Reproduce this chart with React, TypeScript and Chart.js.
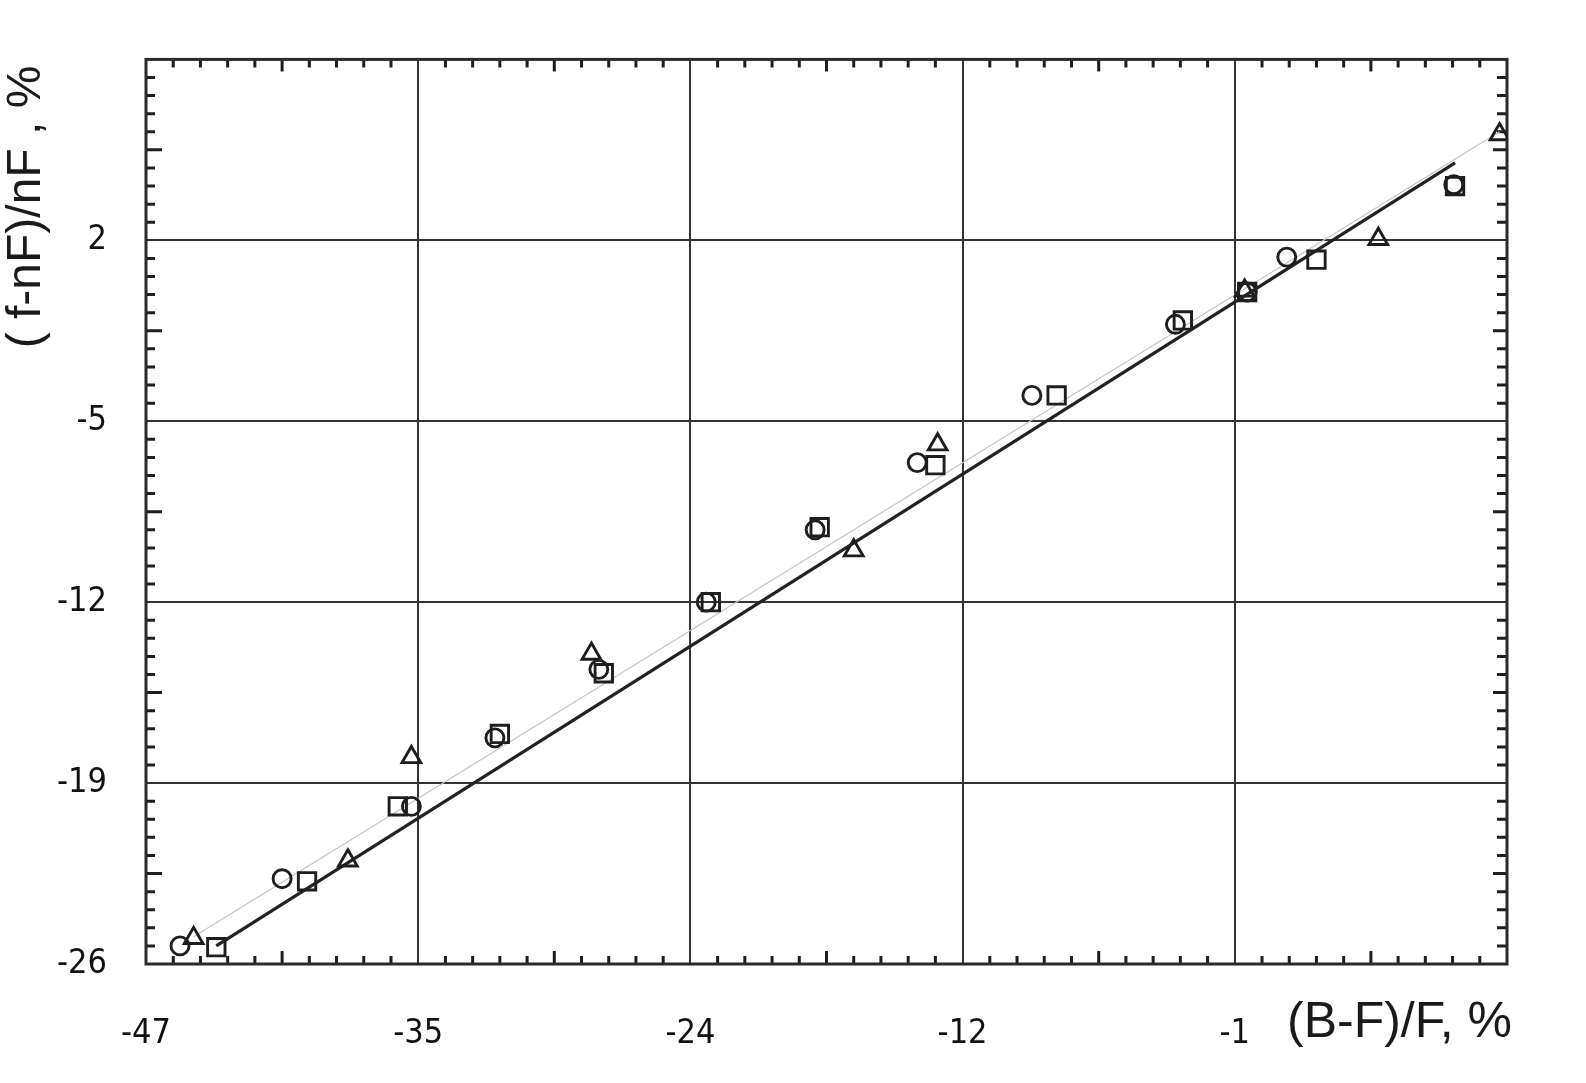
import React, { useEffect, useRef } from 'react';
import { Chart, registerables } from 'chart.js';

Chart.register(...registerables);

// ---- axis definitions ----
const xTickValues = [-47, -35, -24, -12, -1];
const yTickValues = [-26, -19, -12, -5, 2];
const yMin = -26;
const yMax = 9;
const yMinorStep = 0.7;
const xTitle = '(B-F)/F, %';
const yTitle = '( f-nF)/nF , %';

// ---- series: circles ----
const circleX = [-45.5, -41.0, -35.3, -31.9, -27.7, -23.3, -18.5, -14.0, -9.2, -3.4, -0.5, 1.1, 7.85];
const circleY = [-25.3, -22.7, -19.9, -17.25, -14.6, -12.0, -9.2, -6.6, -4.0, -1.25, 0.0, 1.35, 4.15];

// ---- series: squares ----
const squareX = [-43.9, -39.9, -35.9, -31.7, -27.5, -23.1, -18.3, -13.2, -8.2, -3.1, -0.5, 2.3, 7.9];
const squareY = [-25.35, -22.8, -19.9, -17.1, -14.75, -12.0, -9.1, -6.7, -4.0, -1.1, 0.0, 1.25, 4.1];

// ---- series: triangles ----
const triangleX = [-44.9, -38.1, -35.3, -28.0, -16.8, -13.1, -0.6, 4.8, 9.7];
const triangleY = [-25.0, -22.0, -18.0, -14.0, -10.0, -5.9, 0.05, 2.05, 6.1];

// ---- lines ----
const fitLineX = [-43.9, 7.9];
const fitLineY = [-25.3, 5.0];
const guideLineX = [-44.9, 9.7];
const guideLineY = [-24.95, 6.2];

// map a value of the (unevenly labelled) x axis to its grid position
function toPos(v: number): number {
  const t = xTickValues;
  for (let i = 0; i < t.length - 1; i++) {
    if (v <= t[i + 1]) return i + (v - t[i]) / (t[i + 1] - t[i]);
  }
  const last = t.length - 1;
  const step = t[last] - t[last - 1];
  return last + (v - t[last]) / step;
}

const xPosMax = xTickValues.length; // one extra grid cell on the right

function pts(xs: number[], ys: number[]) {
  return xs.map((x, i) => ({ x: toPos(x), y: ys[i] }));
}

const INK = '#1e1e1e';

const framePlugin = {
  id: 'frameAndMinorTicks',
  beforeDatasetsDraw(chart: any) {
    const { ctx, chartArea, scales } = chart;
    const { left, right, top, bottom } = chartArea;
    const xs = scales.x;
    const ys = scales.y;
    ctx.save();
    ctx.strokeStyle = INK;
    ctx.lineCap = 'butt';
    ctx.lineWidth = 3;
    for (let i = 0; i < xPosMax; i++) {
      for (let k = 1; k < 10; k++) {
        const px = xs.getPixelForValue(i + k / 10);
        const lenB = k === 5 ? 13 : 8;
        const lenT = k === 5 ? 12 : 8;
        ctx.beginPath();
        ctx.moveTo(px, bottom);
        ctx.lineTo(px, bottom - lenB);
        ctx.moveTo(px, top);
        ctx.lineTo(px, top + lenT);
        ctx.stroke();
      }
    }
    const n = Math.round((yMax - yMin) / yMinorStep);
    for (let k = 1; k < n; k++) {
      if (k % 10 === 0) continue;
      const py = ys.getPixelForValue(yMin + k * yMinorStep);
      const lenL = k % 10 === 5 ? 16 : 9;
      const lenR = k % 10 === 5 ? 14 : 10;
      ctx.beginPath();
      ctx.moveTo(left, py);
      ctx.lineTo(left + lenL, py);
      ctx.moveTo(right, py);
      ctx.lineTo(right - lenR, py);
      ctx.stroke();
    }
    ctx.lineWidth = 3;
    ctx.strokeStyle = '#2a2a2a';
    ctx.strokeRect(left, top, right - left, bottom - top);
    ctx.restore();
  },
  afterDraw(chart: any) {
    const { ctx } = chart;
    ctx.save();
    ctx.fillStyle = '#1a1a1a';
    ctx.textBaseline = 'middle';
    ctx.textAlign = 'left';
    ctx.font = '50px "Liberation Sans", Arial, sans-serif';
    ctx.fillText(xTitle, 1287, 1023);
    ctx.font = '48px "Liberation Sans", Arial, sans-serif';
    ctx.translate(27, 207);
    ctx.rotate(-Math.PI / 2);
    ctx.textAlign = 'center';
    ctx.fillText(yTitle, 0, 0);
    ctx.restore();
  },
};

export default function App() {
  const ref = useRef<HTMLCanvasElement | null>(null);

  useEffect(() => {
    if (!ref.current) return;
    const markerBase = {
      type: 'scatter' as const,
      showLine: false,
      borderColor: INK,
      backgroundColor: 'rgba(0,0,0,0)',
      borderWidth: 2.9,
      order: 0,
    };
    const tickFont = { family: '"DejaVu Sans Condensed", "DejaVu Sans", sans-serif', size: 34 };
    const chart = new Chart(ref.current, {
      type: 'scatter',
      data: {
        datasets: [
          {
            ...markerBase,
            label: 'circles',
            data: pts(circleX, circleY),
            pointStyle: 'circle',
            pointRadius: 9,
          },
          {
            ...markerBase,
            label: 'squares',
            data: pts(squareX, squareY),
            pointStyle: 'rect',
            pointRadius: 12.3,
          },
          {
            ...markerBase,
            label: 'triangles',
            data: pts(triangleX, triangleY),
            pointStyle: 'triangle',
            pointRadius: 10.8,
          },
          {
            type: 'line' as const,
            label: 'guide',
            data: pts(guideLineX, guideLineY),
            borderColor: '#c4c4c4',
            borderWidth: 1.2,
            pointRadius: 0,
            fill: false,
            order: 2,
          },
          {
            type: 'line' as const,
            label: 'fit',
            data: pts(fitLineX, fitLineY),
            borderColor: '#222',
            borderWidth: 3.2,
            pointRadius: 0,
            fill: false,
            order: 1,
          },
        ],
      },
      options: {
        animation: false,
        responsive: false,
        devicePixelRatio: 1,
        layout: { padding: { top: 58, right: 79, left: 0, bottom: 0 } },
        plugins: { legend: { display: false }, tooltip: { enabled: false } },
        scales: {
          x: {
            type: 'linear',
            min: 0,
            max: xPosMax,
            afterBuildTicks: (scale: any) => {
              const arr = [];
              for (let i = 0; i <= xPosMax; i++) arr.push({ value: i });
              scale.ticks = arr;
            },
            afterFit: (scale: any) => {
              scale.height = 119;
            },
            grid: { color: '#333', lineWidth: 2, drawTicks: false },
            border: { display: false },
            ticks: {
              padding: 50,
              color: '#111',
              font: tickFont,
              maxRotation: 0,
              autoSkip: false,
              callback: (_v: any, i: number) => (i < xTickValues.length ? String(xTickValues[i]) : ''),
            },
          },
          y: {
            type: 'linear',
            min: yMin,
            max: yMax,
            afterBuildTicks: (scale: any) => {
              scale.ticks = [...yTickValues, yMax].map((value) => ({ value }));
            },
            afterFit: (scale: any) => {
              scale.width = 146;
            },
            grid: { color: '#333', lineWidth: 2, drawTicks: false },
            border: { display: false },
            ticks: {
              padding: 39,
              color: '#111',
              font: tickFont,
              autoSkip: false,
              callback: (v: any) => (yTickValues.includes(v) ? String(v) : ''),
            },
          },
        },
      },
      plugins: [framePlugin],
    } as any);
    return () => chart.destroy();
  }, []);

  return (
    <div style={{ position: 'fixed', left: 0, top: 0, width: 1586, height: 1083, background: '#fff' }}>
      <canvas ref={ref} width={1586} height={1083} style={{ display: 'block' }} />
    </div>
  );
}
